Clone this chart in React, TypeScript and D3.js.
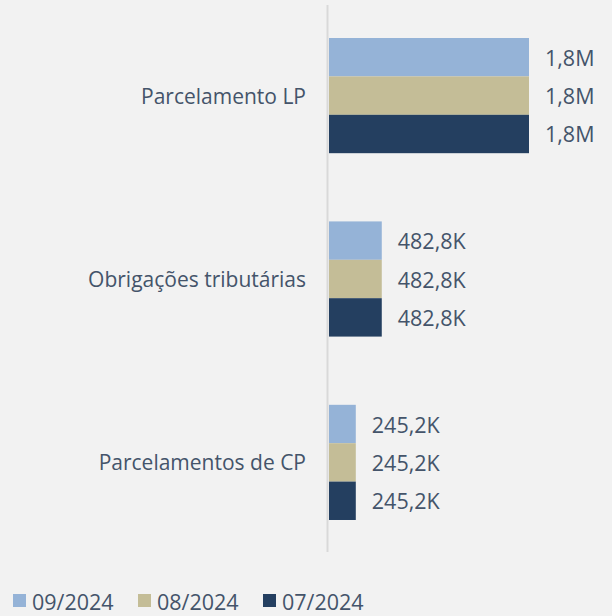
import React from "react";
import * as d3 from "d3";

const categories = ["Parcelamento LP", "Obrigações tributárias", "Parcelamentos de CP"];
const seriesNames = ["09/2024", "08/2024", "07/2024"];
const values092024 = [1830000, 482800, 245200];
const values082024 = [1830000, 482800, 245200];
const values072024 = [1830000, 482800, 245200];
const colors = ["#95B3D7", "#C4BD97", "#243F60"];

const W = 612;
const H = 616;
const FONT = "'Open Sans', 'Noto Sans', sans-serif";
const TEXT = "#44546A";

function fmt(v: number): string {
  if (v >= 1e6) return (v / 1e6).toFixed(1).replace(".", ",") + "M";
  return (v / 1e3).toFixed(1).replace(".", ",") + "K";
}

export default function App() {
  const seriesValues = [values092024, values082024, values072024];
  const y = d3.scaleBand<string>().domain(categories).range([5, 553]).paddingInner(0.372).paddingOuter(0.18);
  const yInner = d3.scaleBand<string>().domain(seriesNames).range([0, y.bandwidth()]);
  const x = d3.scaleLinear().domain([0, 1830000]).range([329, 529]);
  const legendX = [13, 138, 263];

  return (
    <div style={{ position: "fixed", left: 0, top: 0, width: W, height: H }}>
      <svg width={W} height={H} style={{ display: "block", background: "#F2F2F2" }} fontFamily={FONT}>
        <rect x={0} y={0} width={W} height={H} fill="#F2F2F2" />
        {categories.map((c, ci) => (
          <g key={c}>
            {seriesNames.map((s, si) => {
              const v = seriesValues[si][ci];
              const yy = (y(c) as number) + (yInner(s) as number);
              const h = yInner.bandwidth();
              return (
                <g key={s}>
                  <rect x={x(0)} y={yy} width={x(v) - x(0)} height={h} fill={colors[si]} />
                  <text x={x(v) + 16} y={yy + h / 2} dominantBaseline="central" fontSize={21.5} fill={TEXT}>
                    {fmt(v)}
                  </text>
                </g>
              );
            })}
            <text
              x={306}
              y={(y(c) as number) + y.bandwidth() / 2}
              textAnchor="end"
              dominantBaseline="central"
              fontSize={21}
              fill={TEXT}
            >
              {c}
            </text>
          </g>
        ))}
        <line x1={327.5} x2={327.5} y1={5} y2={552} stroke="#D9D9D9" strokeWidth={2} />
        {seriesNames.map((s, si) => (
          <g key={s}>
            <rect x={legendX[si]} y={594} width={13} height={13} fill={colors[si]} />
            <text x={legendX[si] + 19} y={601} dominantBaseline="central" fontSize={21.5} fill={TEXT}>
              {s}
            </text>
          </g>
        ))}
      </svg>
    </div>
  );
}
